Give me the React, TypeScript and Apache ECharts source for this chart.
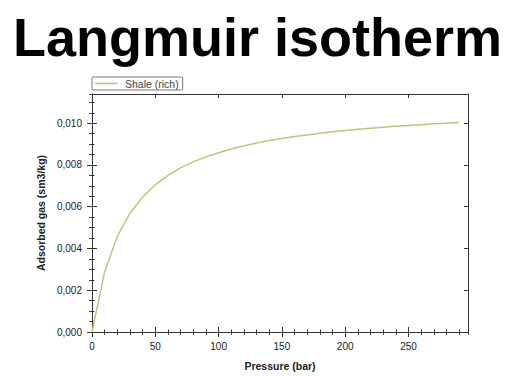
import React, { useEffect, useRef } from "react";
import * as echarts from "echarts";

const titleText = "Langmuir isotherm";
const seriesName = "Shale (rich)";
const xAxisName = "Pressure (bar)";
const yAxisName = "Adsorbed gas (sm3/kg)";

const pressure = [0, 10, 20, 30, 40, 50, 60, 70, 80, 90, 100, 110, 120, 130, 140, 150, 160, 170, 180, 190, 200, 210, 220, 230, 240, 250, 260, 270, 280, 290];
const adsorbed = [0, 0.00289, 0.00458, 0.00569, 0.00647, 0.00705, 0.0075, 0.00786, 0.00815, 0.00839, 0.00859, 0.00877, 0.00892, 0.00905, 0.00917, 0.00927, 0.00936, 0.00944, 0.00952, 0.00959, 0.00965, 0.00971, 0.00976, 0.00981, 0.00985, 0.00989, 0.00993, 0.00997, 0.01, 0.01003];

const X_MAX = 297;
const Y_MAX = 0.0114;

const fmtY = (v: number) => v.toFixed(3).replace(".", ",");

export default function App() {
  const ref = useRef<HTMLDivElement>(null);
  useEffect(() => {
    if (!ref.current) return;
    const chart = echarts.init(ref.current, null, { renderer: "svg" });
    const axisColor = "#333";
    const baseX = { type: "value", min: 0, max: X_MAX, gridIndex: 0 };
    const baseY = { type: "value", min: 0, max: Y_MAX, gridIndex: 0 };
    const hidden = { axisLabel: { show: false }, splitLine: { show: false }, axisLine: { show: false } };
    const tk = (inside: boolean, length: number) => ({ show: true, inside, length, lineStyle: { color: axisColor, width: 1 } });

    const xAxes: any[] = [
      {
        ...baseX, position: "bottom", interval: 50,
        axisLine: { show: true, onZero: false, lineStyle: { color: axisColor, width: 1 } },
        axisTick: tk(false, 5),
        splitLine: { show: false },
        axisLabel: { show: true, margin: 9, color: "#222", fontSize: 10, fontFamily: "Liberation Sans, Arial", showMaxLabel: false },
        name: xAxisName, nameLocation: "middle", nameGap: 28,
        nameTextStyle: { fontWeight: "bold", fontSize: 10.5, color: "#222", fontFamily: "Liberation Sans, Arial" },
      },
      { ...baseX, ...hidden, position: "bottom", interval: 50, axisTick: tk(true, 5) },
      { ...baseX, ...hidden, position: "bottom", interval: 10, axisTick: tk(false, 2.5) },
      { ...baseX, ...hidden, position: "bottom", interval: 10, axisTick: tk(true, 2.5) },
      { ...baseX, position: "top", interval: 50, axisLabel: { show: false }, splitLine: { show: false },
        axisLine: { show: true, onZero: false, lineStyle: { color: axisColor, width: 1 } }, axisTick: tk(true, 4) },
      { ...baseX, ...hidden, position: "top", interval: 10, axisTick: tk(true, 2.5) },
    ];
    const yAxes: any[] = [
      {
        ...baseY, position: "left", interval: 0.002,
        axisLine: { show: true, onZero: false, lineStyle: { color: axisColor, width: 1 } },
        axisTick: tk(false, 5),
        splitLine: { show: false },
        axisLabel: { show: true, margin: 10, color: "#222", fontSize: 10, fontFamily: "Liberation Sans, Arial", showMaxLabel: false, formatter: fmtY },
        name: yAxisName, nameLocation: "middle", nameGap: 44, nameRotate: 90,
        nameTextStyle: { fontWeight: "bold", fontSize: 10.5, color: "#222", fontFamily: "Liberation Sans, Arial" },
      },
      { ...baseY, ...hidden, position: "left", interval: 0.002, axisTick: tk(true, 5) },
      { ...baseY, ...hidden, position: "left", interval: 0.0005, axisTick: tk(false, 2.5) },
      { ...baseY, ...hidden, position: "left", interval: 0.0005, axisTick: tk(true, 2.5) },
      { ...baseY, position: "right", interval: 0.002, axisLabel: { show: false }, splitLine: { show: false },
        axisLine: { show: true, onZero: false, lineStyle: { color: axisColor, width: 1 } }, axisTick: tk(true, 4) },
      { ...baseY, ...hidden, position: "right", interval: 0.0005, axisTick: tk(true, 2.5) },
    ];

    chart.setOption({
      animation: false,
      backgroundColor: "#ffffff",
      grid: { left: 92, right: 47, top: 94, bottom: 44, containLabel: false, outerBoundsMode: "none" },
      graphic: [
        {
          type: "text", left: "center", top: 10,
          style: { text: titleText, fontSize: 54, fontWeight: "bold", fontFamily: "Liberation Sans, Arial", fill: "#000" },
        },
      ],
      legend: {
        show: true, left: 92, top: 77, orient: "horizontal",
        icon: "rect", itemWidth: 23, itemHeight: 1.5, itemGap: 4,
        padding: [1, 4, 1, 3],
        borderColor: "#777", borderWidth: 1, borderRadius: 1,
        textStyle: { fontSize: 10.5, color: "#444", fontFamily: "Liberation Sans, Arial", padding: [0, 0, 0, 2] },
        data: [seriesName],
      },
      xAxis: xAxes,
      yAxis: yAxes,
      series: [
        {
          name: seriesName, type: "line", xAxisIndex: 0, yAxisIndex: 0,
          data: pressure.map((p, i) => [p, adsorbed[i]]),
          symbol: "none", showSymbol: false,
          lineStyle: { color: "#c4c27a", width: 1.5 },
          itemStyle: { color: "#c4c27a" },
        },
      ],
    });
    return () => chart.dispose();
  }, []);
  return <div ref={ref} style={{ width: 515, height: 376, position: "absolute", left: 0, top: 0 }} />;
}
